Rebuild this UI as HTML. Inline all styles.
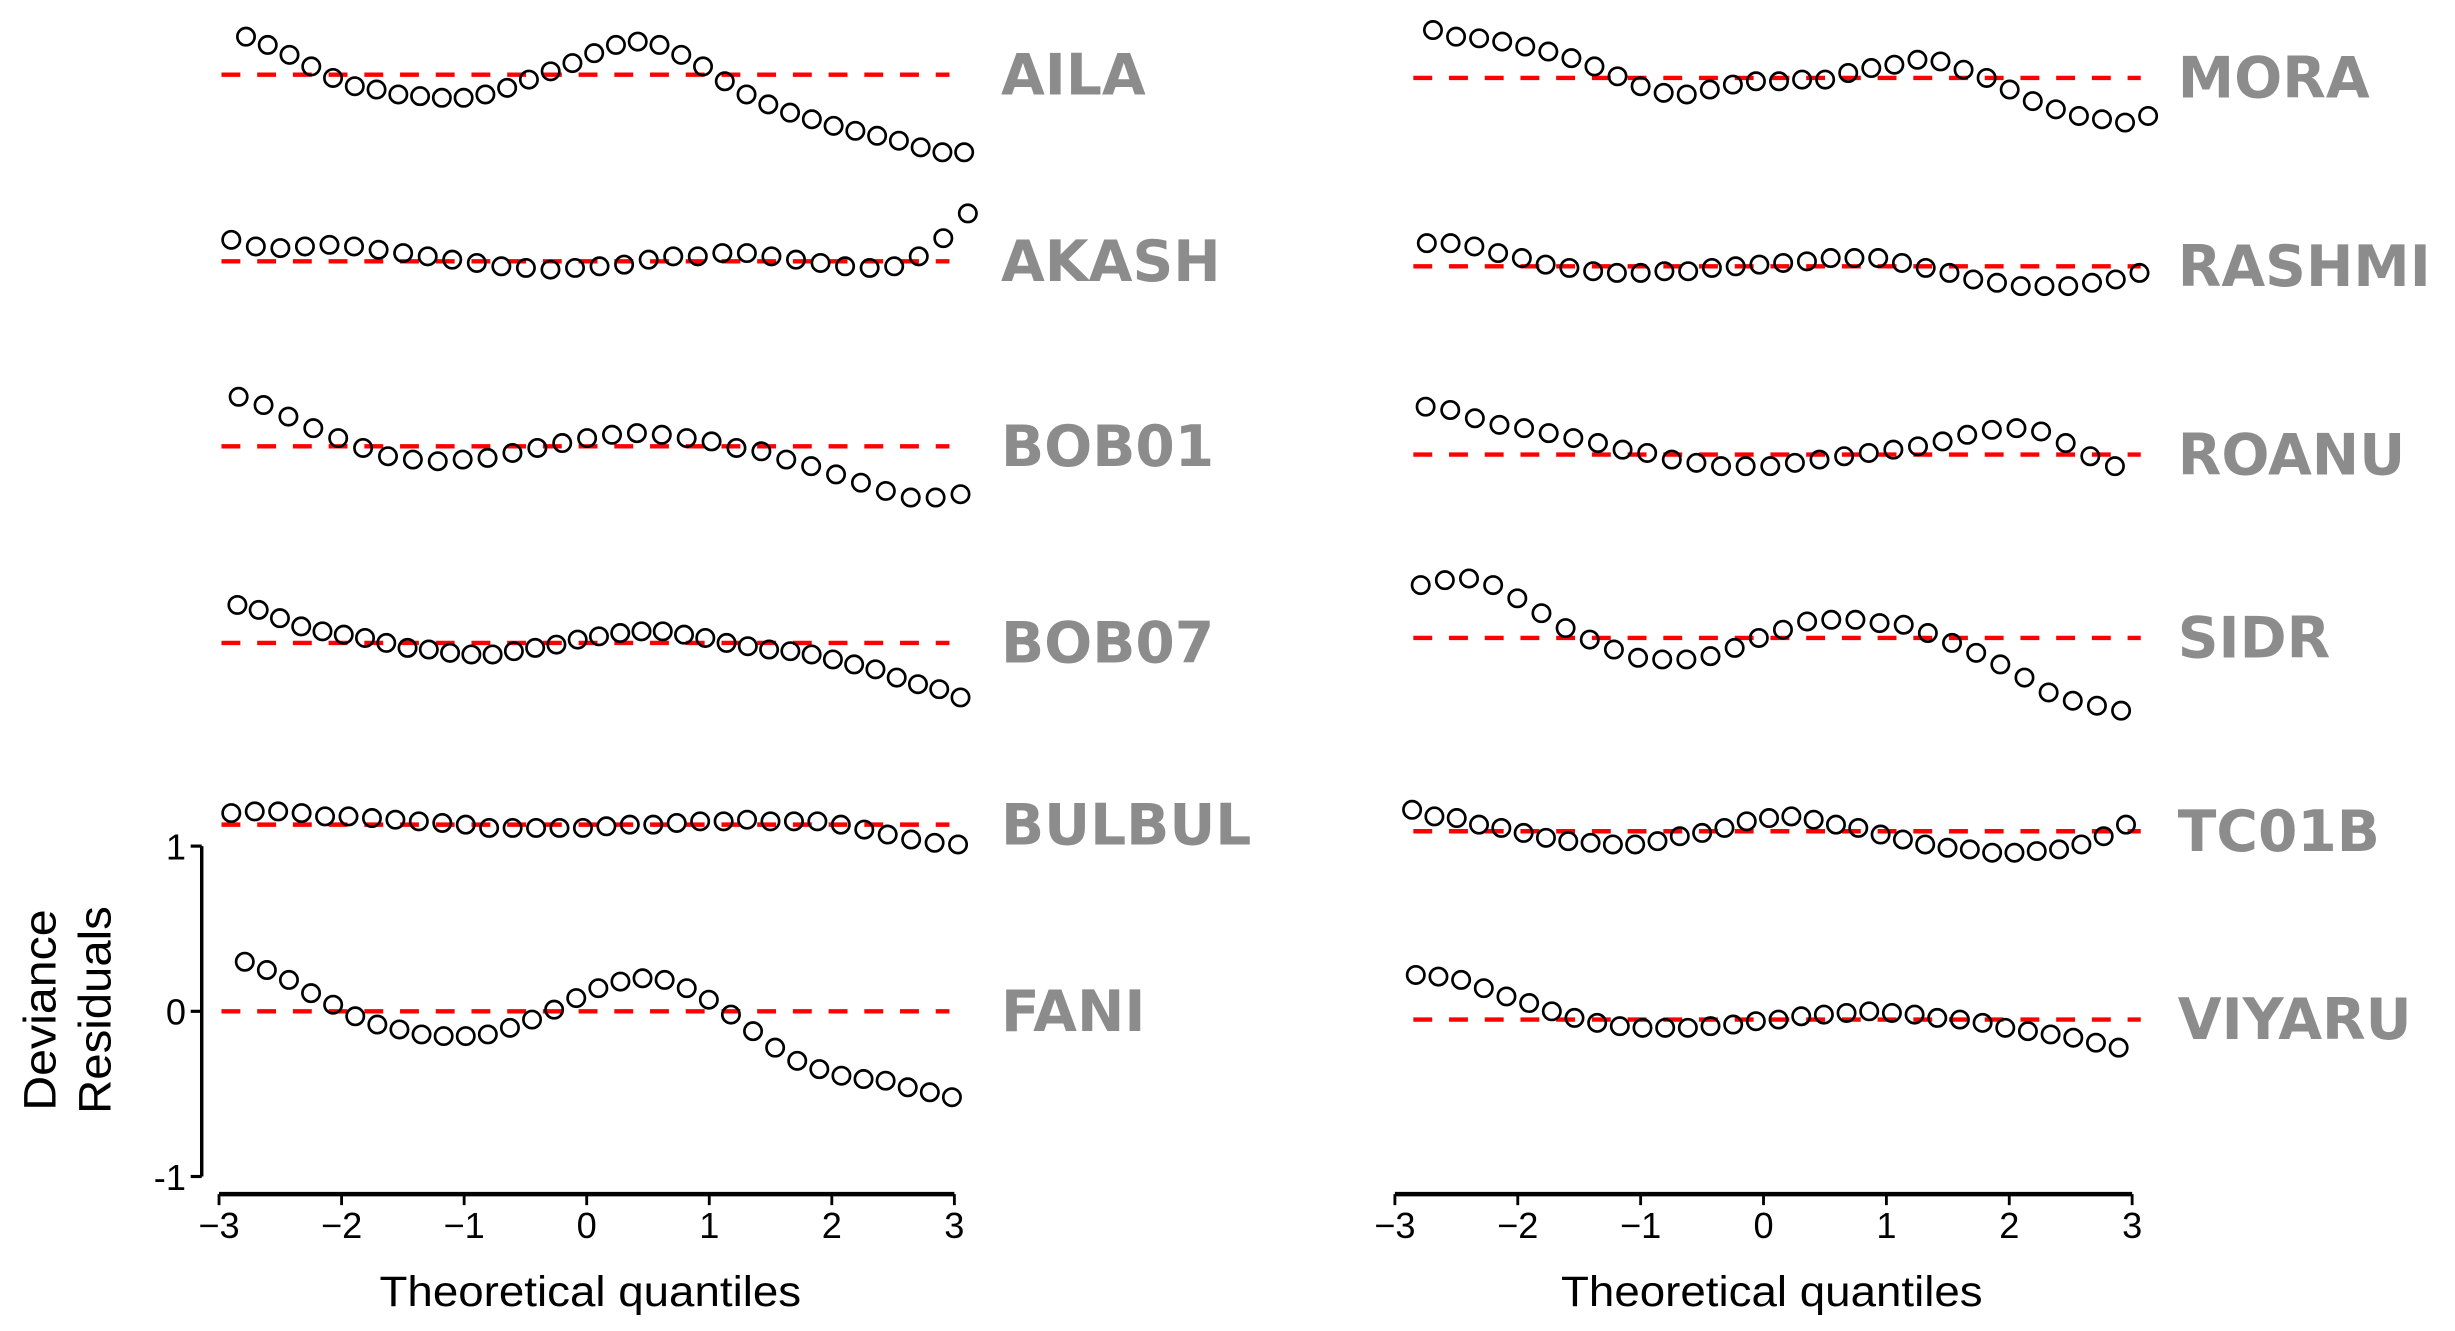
<!DOCTYPE html>
<html><head><meta charset="utf-8"><style>
html,body{margin:0;padding:0;background:#fff;}
svg{display:block;}
</style></head><body>
<svg id="chart" xmlns="http://www.w3.org/2000/svg" width="2455" height="1331" viewBox="0 0 1560 846">
<g id="layer"></g>
</svg>
<script>
const namesLeft = ["AILA","AKASH","BOB01","BOB07","BULBUL","FANI"];
const namesRight = ["MORA","RASHMI","ROANU","SIDR","TC01B","VIYARU"];
const offsetsLeft = [5.67,4.54,3.42,2.23,1.13,0];
const offsetsRight = [5.65,4.51,3.37,2.26,1.09,-0.05];
const xRangeLeft = [[-2.78,3.08],[-2.90,3.11],[-2.84,3.05],[-2.85,3.05],[-2.90,3.03],[-2.79,2.98]];
const xRangeRight = [[-2.69,3.13],[-2.74,3.06],[-2.75,2.86],[-2.79,2.91],[-2.86,2.95],[-2.83,2.89]];
const resAILA = [0.23,0.18,0.12,0.05,-0.02,-0.07,-0.09,-0.12,-0.13,-0.14,-0.14,-0.12,-0.08,-0.03,0.02,0.07,0.13,0.18,0.20,0.18,0.12,0.05,-0.04,-0.12,-0.18,-0.23,-0.27,-0.31,-0.34,-0.37,-0.40,-0.44,-0.47,-0.47];
const resAKASH = [0.13,0.09,0.08,0.09,0.10,0.09,0.07,0.05,0.03,0.01,-0.01,-0.03,-0.04,-0.05,-0.04,-0.03,-0.02,0.01,0.03,0.03,0.05,0.05,0.03,0.01,-0.01,-0.03,-0.04,-0.03,0.03,0.14,0.29];
const resBOB01 = [0.30,0.25,0.18,0.11,0.05,-0.01,-0.06,-0.08,-0.09,-0.08,-0.07,-0.04,-0.01,0.02,0.05,0.07,0.08,0.07,0.05,0.03,-0.01,-0.03,-0.08,-0.12,-0.17,-0.22,-0.27,-0.31,-0.31,-0.29];
const resBOB07 = [0.23,0.20,0.15,0.10,0.07,0.05,0.03,0.00,-0.03,-0.04,-0.06,-0.07,-0.07,-0.05,-0.03,-0.01,0.02,0.04,0.06,0.07,0.07,0.05,0.03,0.00,-0.02,-0.04,-0.05,-0.07,-0.10,-0.13,-0.16,-0.21,-0.25,-0.28,-0.33];
const resBULBUL = [0.07,0.08,0.08,0.07,0.05,0.05,0.04,0.03,0.02,0.01,0.00,-0.02,-0.02,-0.02,-0.02,-0.02,-0.01,0.00,0.00,0.01,0.02,0.02,0.03,0.02,0.02,0.02,0.00,-0.03,-0.06,-0.09,-0.11,-0.12];
const resFANI = [0.30,0.25,0.19,0.11,0.04,-0.03,-0.08,-0.11,-0.14,-0.15,-0.15,-0.14,-0.10,-0.05,0.01,0.08,0.14,0.18,0.20,0.19,0.14,0.07,-0.02,-0.12,-0.22,-0.30,-0.35,-0.39,-0.41,-0.42,-0.46,-0.49,-0.52];
const resMORA = [0.29,0.25,0.24,0.22,0.19,0.16,0.12,0.07,0.01,-0.05,-0.09,-0.10,-0.07,-0.04,-0.02,-0.02,-0.01,-0.01,0.03,0.06,0.08,0.11,0.10,0.05,0.00,-0.07,-0.14,-0.19,-0.23,-0.25,-0.27,-0.23];
const resRASHMI = [0.14,0.14,0.12,0.08,0.05,0.01,-0.01,-0.03,-0.04,-0.04,-0.03,-0.03,-0.01,0.00,0.01,0.02,0.03,0.05,0.05,0.05,0.02,-0.01,-0.04,-0.08,-0.10,-0.12,-0.12,-0.12,-0.10,-0.08,-0.04];
const resROANU = [0.29,0.27,0.22,0.18,0.16,0.13,0.10,0.07,0.03,0.01,-0.03,-0.05,-0.07,-0.07,-0.07,-0.05,-0.03,-0.01,0.01,0.03,0.05,0.08,0.12,0.15,0.16,0.14,0.07,-0.01,-0.07];
const resSIDR = [0.32,0.35,0.36,0.32,0.24,0.15,0.06,-0.01,-0.07,-0.12,-0.13,-0.13,-0.11,-0.06,0.00,0.05,0.10,0.11,0.11,0.09,0.08,0.03,-0.03,-0.09,-0.16,-0.24,-0.33,-0.38,-0.41,-0.44];
const resTC01B = [0.13,0.09,0.08,0.04,0.02,-0.01,-0.04,-0.06,-0.07,-0.08,-0.08,-0.06,-0.03,-0.01,0.02,0.06,0.08,0.09,0.07,0.04,0.02,-0.02,-0.05,-0.08,-0.10,-0.11,-0.13,-0.13,-0.12,-0.11,-0.08,-0.03,0.04];
const resVIYARU = [0.27,0.26,0.24,0.19,0.14,0.10,0.05,0.01,-0.02,-0.04,-0.05,-0.05,-0.05,-0.04,-0.03,-0.01,0.00,0.02,0.03,0.04,0.05,0.04,0.03,0.01,0.00,-0.02,-0.05,-0.07,-0.09,-0.11,-0.14,-0.17];
const xTicks = [-3,-2,-1,0,1,2,3];
const xTickLabels = ["\u22123","\u22122","\u22121","0","1","2","3"];
const yTicks = [1,0,-1];
const yTickLabels = ["1","0","-1"];
const refLineLeft = [-2.98,2.96];
const refLineRight = [-2.85,3.07];

const NS="http://www.w3.org/2000/svg";
const layer=document.getElementById('layer');
function mk(tag,attrs,parent){const e=document.createElementNS(NS,tag);for(const k in attrs)e.setAttribute(k,attrs[k]);(parent||layer).appendChild(e);return e;}
const Y0=642.8, YU=105, AXY=759;
function yS(v){return Y0 - v*YU;}
const panels=[
 {x0:139, xu:77.9, names:namesLeft, offs:offsetsLeft, ranges:xRangeLeft, ref:refLineLeft, key:'left',
  series:[resAILA,resAKASH,resBOB01,resBOB07,resBULBUL,resFANI], labelX:636, titleX:375},
 {x0:886.4, xu:78.1, names:namesRight, offs:offsetsRight, ranges:xRangeRight, ref:refLineRight, key:'right',
  series:[resMORA,resRASHMI,resROANU,resSIDR,resTC01B,resVIYARU], labelX:1384, titleX:1126}
];
panels.forEach(p=>{
  const xS=v=>p.x0+(v+3)*p.xu;
  p.names.forEach((nm,i)=>{
    const g=mk('g',{});
    
    
    const base=p.offs[i];
    const ln=mk('line',{x1:xS(p.ref[0]),x2:xS(p.ref[1]),y1:yS(base),y2:yS(base),stroke:'#ff0000','stroke-width':2.8,'stroke-dasharray':'12 10.7'},g);
    
    
    const vals=p.series[i], r=p.ranges[i], n=vals.length;
    vals.forEach((v,j)=>{
      const q=r[0]+(r[1]-r[0])*j/(n-1);
      const c=mk('circle',{cx:xS(q),cy:yS(base+v),r:5.5,fill:'none',stroke:'#000','stroke-width':1.7},g);
      
      
    });
    const t=mk('text',{x:p.labelX,y:yS(base)+12.5,'font-family':'"DejaVu Sans",Verdana,sans-serif','font-weight':'bold','font-size':36,fill:'#8c8c8c'},g);
    t.textContent=nm;
    
    
  });
  const ax=mk('line',{x1:xS(-3),x2:xS(3),y1:AXY,y2:AXY,stroke:'#000','stroke-width':2.8});
  
  
  xTicks.forEach((t,k)=>{
    const tk=mk('line',{x1:xS(t),x2:xS(t),y1:AXY,y2:AXY+7,stroke:'#000','stroke-width':1.8});
    
    
    const tl=mk('text',{x:xS(t),y:787,'text-anchor':'middle','font-family':'"Liberation Sans",Arial,sans-serif','font-size':23,fill:'#000'});
    tl.textContent=xTickLabels[k];
    
    
  });
  const tt=mk('text',{x:p.titleX,y:830,'text-anchor':'middle','font-family':'"Liberation Sans",Arial,sans-serif','font-size':27,fill:'#000',textLength:268,lengthAdjust:'spacingAndGlyphs'});
  tt.textContent='Theoretical quantiles';
  
  
});
const ya=mk('line',{x1:128,x2:128,y1:yS(1),y2:yS(-1),stroke:'#000','stroke-width':2.2});


yTicks.forEach((t,k)=>{
  const tk=mk('line',{x1:121,x2:128,y1:yS(t),y2:yS(t),stroke:'#000','stroke-width':2});
  
  
  const tl=mk('text',{x:118,y:yS(t)+8.5,'text-anchor':'end','font-family':'"Liberation Sans",Arial,sans-serif','font-size':23,fill:'#000'});
  tl.textContent=yTickLabels[k];
  
  
});
const yt1=mk('text',{x:0,y:0,transform:'translate(35,642) rotate(-90)','text-anchor':'middle','font-family':'"Liberation Sans",Arial,sans-serif','font-size':29,fill:'#000',textLength:128,lengthAdjust:'spacingAndGlyphs'});
yt1.textContent='Deviance';


const yt2=mk('text',{x:0,y:0,transform:'translate(70,642) rotate(-90)','text-anchor':'middle','font-family':'"Liberation Sans",Arial,sans-serif','font-size':29,fill:'#000',textLength:132,lengthAdjust:'spacingAndGlyphs'});
yt2.textContent='Residuals';


</script>
</body></html>
